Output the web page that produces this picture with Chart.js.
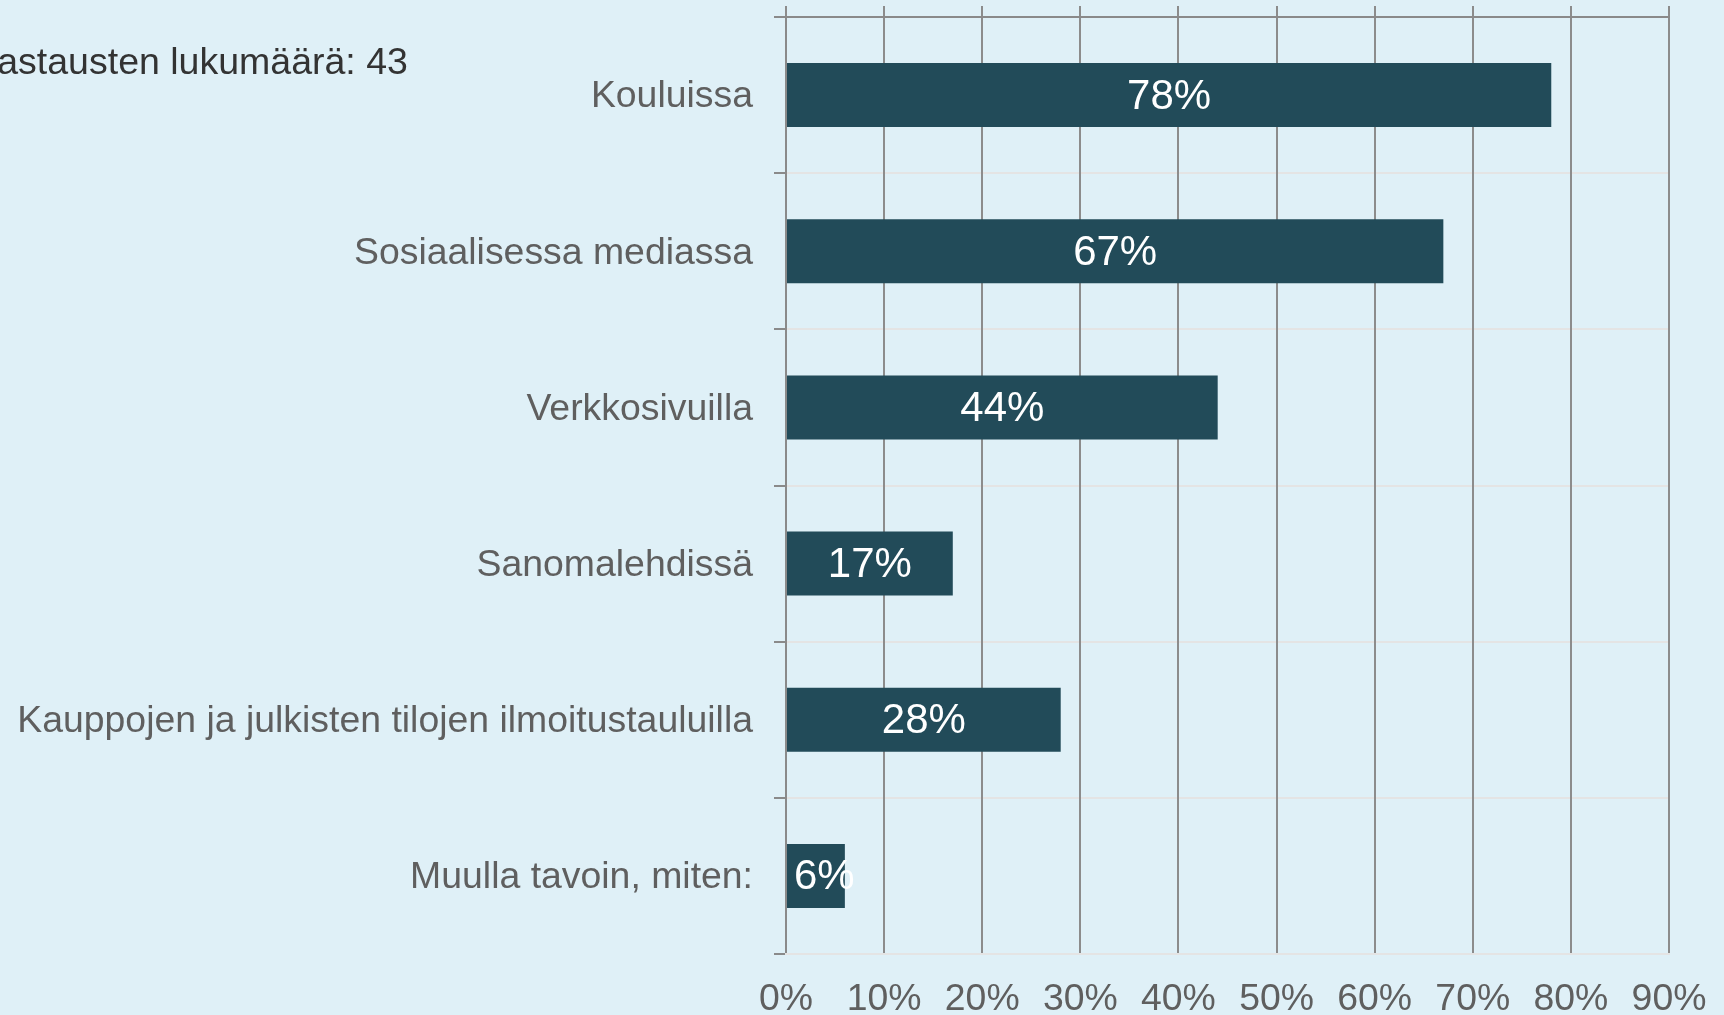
<!DOCTYPE html>
<html>
<head>
<meta charset="utf-8">
<script src="https://cdn.jsdelivr.net/npm/chart.js@4"></script>
<style>
  html, body { margin: 0; padding: 0; background: #dff0f7; overflow: hidden; }
  #wrap { width: 1724px; height: 1015px; }
</style>
</head>
<body>
<div id="wrap"><canvas id="chart" width="1724" height="1015"></canvas></div>
<script>
const categories = [
    "Kouluissa",
    "Sosiaalisessa mediassa",
    "Verkkosivuilla",
    "Sanomalehdissä",
    "Kauppojen ja julkisten tilojen ilmoitustauluilla",
    "Muulla tavoin, miten:"
];
const shares = [78, 67, 44, 17, 28, 6];
const xTicks = [0, 10, 20, 30, 40, 50, 60, 70, 80, 90];
const answerCount = 43;
const countLabel = "Vastausten lukumäärä: " + answerCount;

const FONT = "'Liberation Sans', Arial, sans-serif";

// white value label centred in the bar, nudged right when the bar is too short
const barLabels = {
    id: "barLabels",
    afterDatasetsDraw(chart) {
        const ctx = chart.ctx;
        const meta = chart.getDatasetMeta(0);
        ctx.save();
        ctx.font = "42px " + FONT;
        ctx.fillStyle = "#ffffff";
        ctx.textAlign = "center";
        ctx.textBaseline = "middle";
        meta.data.forEach((bar, i) => {
            const txt = shares[i] + "%";
            const w = ctx.measureText(txt).width;
            const x = Math.max((bar.x + bar.base) / 2, bar.base + w / 2 + 7);
            ctx.fillText(txt, x, bar.y + 2);
        });
        ctx.restore();
    }
};

// answer count in the top-left corner (cut off by the left edge like the original)
const countText = {
    id: "countText",
    afterDraw(chart) {
        const ctx = chart.ctx;
        ctx.save();
        ctx.font = "37.5px " + FONT;
        ctx.fillStyle = "#333333";
        ctx.textAlign = "left";
        ctx.textBaseline = "middle";
        ctx.fillText(countLabel, -25, 64);
        ctx.restore();
    }
};

new Chart(document.getElementById("chart").getContext("2d"), {
    type: "bar",
    data: {
        labels: categories,
        datasets: [{
            data: shares,
            backgroundColor: "#224b59",
            borderWidth: 0,
            categoryPercentage: 1,
            barPercentage: 0.41
        }]
    },
    options: {
        indexAxis: "y",
        responsive: false,
        animation: false,
        layout: { padding: { left: 0, right: 55, top: 6, bottom: 0 } },
        plugins: {
            legend: { display: false },
            tooltip: { enabled: false },
            title: { display: false }
        },
        scales: {
            y: {
                grid: { color: "#e4e4e4", lineWidth: 2, tickColor: "#8a8a8a", tickLength: 12, offset: true },
                border: { color: "#8a8a8a", width: 2 },
                ticks: { color: "#5f5f5f", font: { family: FONT, size: 37.4 }, padding: 21, labelOffset: 2 },
                afterFit(scale) {
                    scale.width = 786;
                    scale.paddingTop = 0;
                    scale.paddingBottom = 0;
                }
            },
            x: {
                position: "bottom",
                min: 0,
                max: 90,
                afterBuildTicks(scale) { scale.ticks = xTicks.map(v => ({ value: v })); },
                grid: { color: "#8c8c8c", lineWidth: 2, drawTicks: false },
                border: { color: "#e4e4e4", width: 2 },
                ticks: {
                    color: "#5f5f5f",
                    font: { family: FONT, size: 37.4 },
                    padding: 23,
                    maxRotation: 0,
                    autoSkip: false,
                    callback: v => v + "%"
                },
                afterFit(scale) {
                    scale.height = 61;
                    scale.paddingLeft = 0;
                    scale.paddingRight = 0;
                }
            },
            xTop: {
                type: "linear",
                position: "top",
                min: 0,
                max: 90,
                afterBuildTicks(scale) { scale.ticks = xTicks.map(v => ({ value: v })); },
                grid: { drawOnChartArea: false, tickLength: 11, tickColor: "#8c8c8c", lineWidth: 2 },
                border: { color: "#8a8a8a", width: 2 },
                ticks: { display: false }
            }
        }
    },
    plugins: [barLabels, countText]
});
</script>
</body>
</html>
